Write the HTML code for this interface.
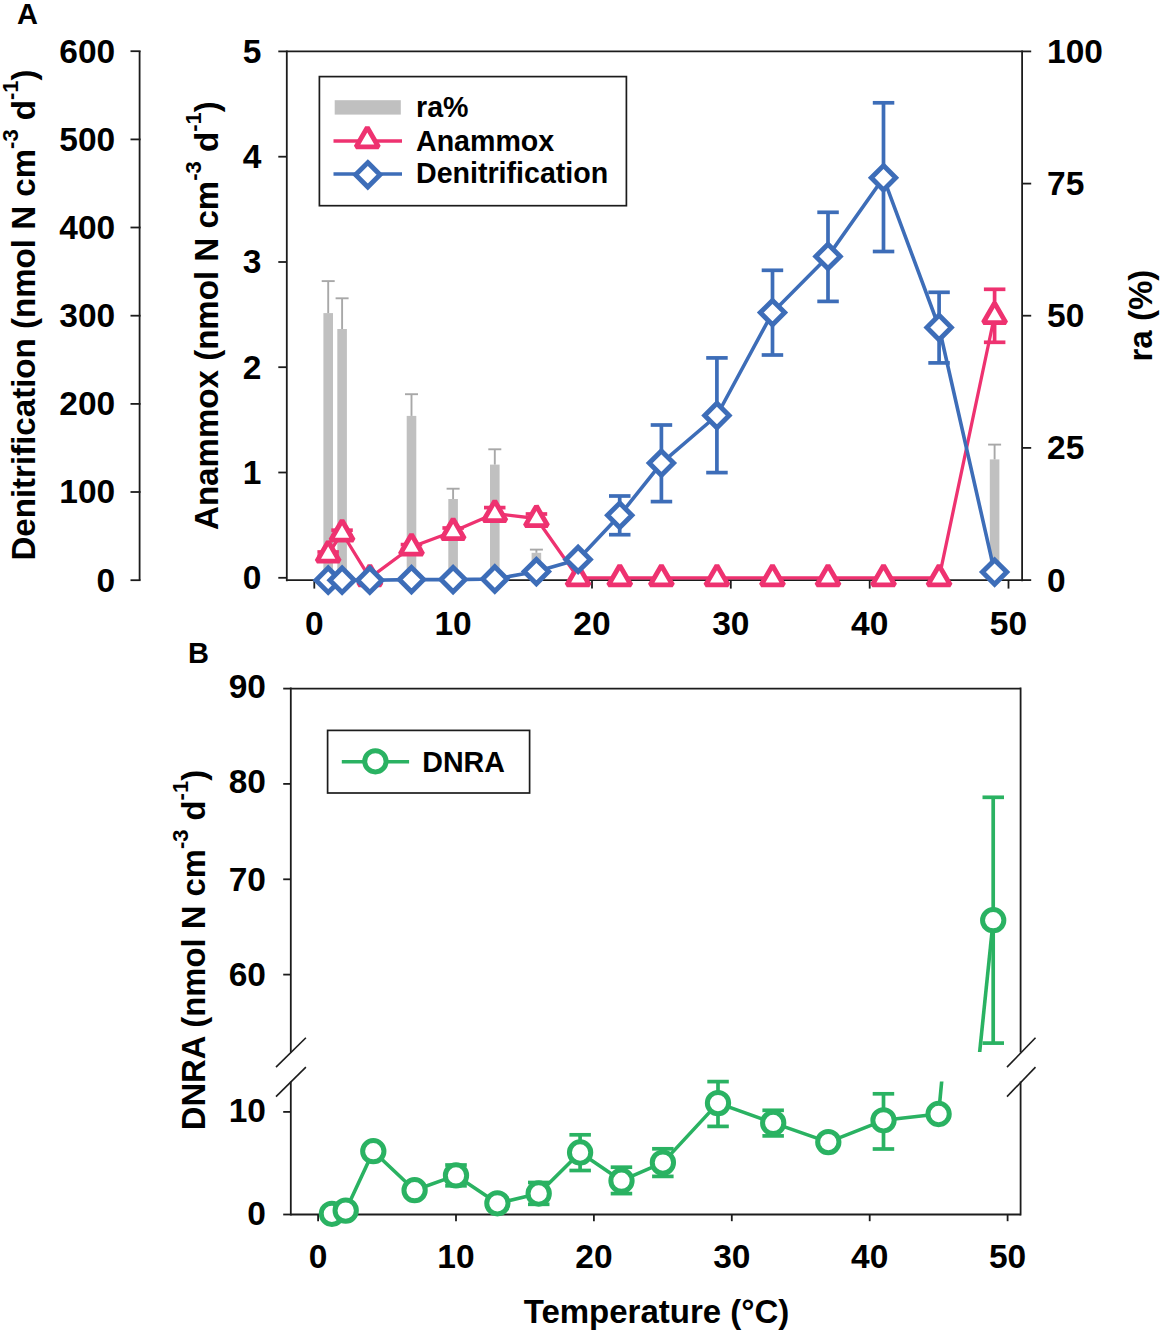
<!DOCTYPE html>
<html><head><meta charset="utf-8"><style>
html,body{margin:0;padding:0;background:#fff;}
svg{display:block;}
text{font-family:"Liberation Sans",sans-serif;font-weight:bold;fill:#000;}
</style></head><body>
<svg width="1160" height="1333" viewBox="0 0 1160 1333">
<rect width="1160" height="1333" fill="#fff"/>
<text x="17" y="24.1" font-size="29" font-family="Liberation Sans, sans-serif" font-weight="bold">A</text>
<line x1="139.6" y1="51.2" x2="139.6" y2="580.2" stroke="#1c1c1c" stroke-width="1.8"/>
<line x1="130.5" y1="580.2" x2="140.6" y2="580.2" stroke="#1c1c1c" stroke-width="1.8"/>
<text x="115.2" y="591.6" font-size="33.5" text-anchor="end" font-family="Liberation Sans, sans-serif" font-weight="bold">0</text>
<line x1="130.5" y1="492.0" x2="140.6" y2="492.0" stroke="#1c1c1c" stroke-width="1.8"/>
<text x="115.2" y="503.4" font-size="33.5" text-anchor="end" font-family="Liberation Sans, sans-serif" font-weight="bold">100</text>
<line x1="130.5" y1="403.9" x2="140.6" y2="403.9" stroke="#1c1c1c" stroke-width="1.8"/>
<text x="115.2" y="415.3" font-size="33.5" text-anchor="end" font-family="Liberation Sans, sans-serif" font-weight="bold">200</text>
<line x1="130.5" y1="315.7" x2="140.6" y2="315.7" stroke="#1c1c1c" stroke-width="1.8"/>
<text x="115.2" y="327.1" font-size="33.5" text-anchor="end" font-family="Liberation Sans, sans-serif" font-weight="bold">300</text>
<line x1="130.5" y1="227.5" x2="140.6" y2="227.5" stroke="#1c1c1c" stroke-width="1.8"/>
<text x="115.2" y="238.9" font-size="33.5" text-anchor="end" font-family="Liberation Sans, sans-serif" font-weight="bold">400</text>
<line x1="130.5" y1="139.4" x2="140.6" y2="139.4" stroke="#1c1c1c" stroke-width="1.8"/>
<text x="115.2" y="150.8" font-size="33.5" text-anchor="end" font-family="Liberation Sans, sans-serif" font-weight="bold">500</text>
<line x1="130.5" y1="51.2" x2="140.6" y2="51.2" stroke="#1c1c1c" stroke-width="1.8"/>
<text x="115.2" y="62.6" font-size="33.5" text-anchor="end" font-family="Liberation Sans, sans-serif" font-weight="bold">600</text>
<line x1="286.8" y1="50.4" x2="286.8" y2="581.2" stroke="#1c1c1c" stroke-width="1.8"/>
<line x1="278.3" y1="577.8" x2="286.8" y2="577.8" stroke="#1c1c1c" stroke-width="1.8"/>
<text x="261.5" y="589.2" font-size="33.5" text-anchor="end" font-family="Liberation Sans, sans-serif" font-weight="bold">0</text>
<line x1="278.3" y1="472.5" x2="286.8" y2="472.5" stroke="#1c1c1c" stroke-width="1.8"/>
<text x="261.5" y="483.9" font-size="33.5" text-anchor="end" font-family="Liberation Sans, sans-serif" font-weight="bold">1</text>
<line x1="278.3" y1="367.2" x2="286.8" y2="367.2" stroke="#1c1c1c" stroke-width="1.8"/>
<text x="261.5" y="378.6" font-size="33.5" text-anchor="end" font-family="Liberation Sans, sans-serif" font-weight="bold">2</text>
<line x1="278.3" y1="262.0" x2="286.8" y2="262.0" stroke="#1c1c1c" stroke-width="1.8"/>
<text x="261.5" y="273.4" font-size="33.5" text-anchor="end" font-family="Liberation Sans, sans-serif" font-weight="bold">3</text>
<line x1="278.3" y1="156.7" x2="286.8" y2="156.7" stroke="#1c1c1c" stroke-width="1.8"/>
<text x="261.5" y="168.1" font-size="33.5" text-anchor="end" font-family="Liberation Sans, sans-serif" font-weight="bold">4</text>
<line x1="278.3" y1="51.4" x2="286.8" y2="51.4" stroke="#1c1c1c" stroke-width="1.8"/>
<text x="261.5" y="62.8" font-size="33.5" text-anchor="end" font-family="Liberation Sans, sans-serif" font-weight="bold">5</text>
<line x1="1022.1" y1="50.4" x2="1022.1" y2="581.2" stroke="#1c1c1c" stroke-width="1.8"/>
<line x1="1022.1" y1="580.1" x2="1031.2" y2="580.1" stroke="#1c1c1c" stroke-width="1.8"/>
<text x="1047" y="591.5" font-size="33.5" font-family="Liberation Sans, sans-serif" font-weight="bold">0</text>
<line x1="1022.1" y1="447.9" x2="1031.2" y2="447.9" stroke="#1c1c1c" stroke-width="1.8"/>
<text x="1047" y="459.3" font-size="33.5" font-family="Liberation Sans, sans-serif" font-weight="bold">25</text>
<line x1="1022.1" y1="315.7" x2="1031.2" y2="315.7" stroke="#1c1c1c" stroke-width="1.8"/>
<text x="1047" y="327.1" font-size="33.5" font-family="Liberation Sans, sans-serif" font-weight="bold">50</text>
<line x1="1022.1" y1="183.6" x2="1031.2" y2="183.6" stroke="#1c1c1c" stroke-width="1.8"/>
<text x="1047" y="195.0" font-size="33.5" font-family="Liberation Sans, sans-serif" font-weight="bold">75</text>
<line x1="1022.1" y1="51.4" x2="1031.2" y2="51.4" stroke="#1c1c1c" stroke-width="1.8"/>
<text x="1047" y="62.8" font-size="33.5" font-family="Liberation Sans, sans-serif" font-weight="bold">100</text>
<line x1="286.8" y1="51.4" x2="1022.1" y2="51.4" stroke="#1c1c1c" stroke-width="1.8"/>
<line x1="286.8" y1="580.2" x2="1022.1" y2="580.2" stroke="#1c1c1c" stroke-width="1.8"/>
<line x1="314.3" y1="580.2" x2="314.3" y2="588.6" stroke="#1c1c1c" stroke-width="1.8"/>
<text x="314.3" y="634.6" font-size="33.5" text-anchor="middle" font-family="Liberation Sans, sans-serif" font-weight="bold">0</text>
<line x1="453.1" y1="580.2" x2="453.1" y2="588.6" stroke="#1c1c1c" stroke-width="1.8"/>
<text x="453.1" y="634.6" font-size="33.5" text-anchor="middle" font-family="Liberation Sans, sans-serif" font-weight="bold">10</text>
<line x1="592.0" y1="580.2" x2="592.0" y2="588.6" stroke="#1c1c1c" stroke-width="1.8"/>
<text x="592.0" y="634.6" font-size="33.5" text-anchor="middle" font-family="Liberation Sans, sans-serif" font-weight="bold">20</text>
<line x1="730.8" y1="580.2" x2="730.8" y2="588.6" stroke="#1c1c1c" stroke-width="1.8"/>
<text x="730.8" y="634.6" font-size="33.5" text-anchor="middle" font-family="Liberation Sans, sans-serif" font-weight="bold">30</text>
<line x1="869.7" y1="580.2" x2="869.7" y2="588.6" stroke="#1c1c1c" stroke-width="1.8"/>
<text x="869.7" y="634.6" font-size="33.5" text-anchor="middle" font-family="Liberation Sans, sans-serif" font-weight="bold">40</text>
<line x1="1008.5" y1="580.2" x2="1008.5" y2="588.6" stroke="#1c1c1c" stroke-width="1.8"/>
<text x="1008.5" y="634.6" font-size="33.5" text-anchor="middle" font-family="Liberation Sans, sans-serif" font-weight="bold">50</text>
<text transform="translate(35.2,315.0) rotate(-90)" x="0" y="0" font-size="33.1" text-anchor="middle" font-family="Liberation Sans, sans-serif" font-weight="bold">Denitrification (nmol N cm<tspan font-size="22" dy="-17">-3</tspan><tspan dy="17"> d</tspan><tspan font-size="22" dy="-17">-1</tspan><tspan dy="17">)</tspan></text>
<text transform="translate(218.0,315.6) rotate(-90)" x="0" y="0" font-size="33.1" text-anchor="middle" font-family="Liberation Sans, sans-serif" font-weight="bold">Anammox (nmol N cm<tspan font-size="22" dy="-17">-3</tspan><tspan dy="17"> d</tspan><tspan font-size="22" dy="-17">-1</tspan><tspan dy="17">)</tspan></text>
<text transform="translate(1152.2,315.6) rotate(-90)" x="0" y="0" font-size="33.1" text-anchor="middle" font-family="Liberation Sans, sans-serif" font-weight="bold">ra (%)</text>
<rect x="323.4" y="313.1" width="9.6" height="267.1" fill="#c0c0c0"/>
<line x1="328.2" y1="281.1" x2="328.2" y2="313.1" stroke="#a8a8a8" stroke-width="1.9"/>
<line x1="321.7" y1="281.1" x2="334.7" y2="281.1" stroke="#a8a8a8" stroke-width="1.9"/>
<rect x="337.3" y="329.0" width="9.6" height="251.2" fill="#c0c0c0"/>
<line x1="342.1" y1="298.3" x2="342.1" y2="329.0" stroke="#a8a8a8" stroke-width="1.9"/>
<line x1="335.6" y1="298.3" x2="348.6" y2="298.3" stroke="#a8a8a8" stroke-width="1.9"/>
<rect x="406.7" y="415.9" width="9.6" height="164.3" fill="#c0c0c0"/>
<line x1="411.5" y1="394.2" x2="411.5" y2="415.9" stroke="#a8a8a8" stroke-width="1.9"/>
<line x1="405.0" y1="394.2" x2="418.0" y2="394.2" stroke="#a8a8a8" stroke-width="1.9"/>
<rect x="448.3" y="499.0" width="9.6" height="81.2" fill="#c0c0c0"/>
<line x1="453.1" y1="488.7" x2="453.1" y2="499.0" stroke="#a8a8a8" stroke-width="1.9"/>
<line x1="446.6" y1="488.7" x2="459.6" y2="488.7" stroke="#a8a8a8" stroke-width="1.9"/>
<rect x="490.0" y="464.6" width="9.6" height="115.6" fill="#c0c0c0"/>
<line x1="494.8" y1="449.3" x2="494.8" y2="464.6" stroke="#a8a8a8" stroke-width="1.9"/>
<line x1="488.3" y1="449.3" x2="501.3" y2="449.3" stroke="#a8a8a8" stroke-width="1.9"/>
<rect x="531.6" y="552.8" width="9.6" height="27.4" fill="#c0c0c0"/>
<line x1="536.4" y1="549.6" x2="536.4" y2="552.8" stroke="#a8a8a8" stroke-width="1.9"/>
<line x1="529.9" y1="549.6" x2="542.9" y2="549.6" stroke="#a8a8a8" stroke-width="1.9"/>
<rect x="989.8" y="459.4" width="9.6" height="120.8" fill="#c0c0c0"/>
<line x1="994.6" y1="444.6" x2="994.6" y2="459.4" stroke="#a8a8a8" stroke-width="1.9"/>
<line x1="988.1" y1="444.6" x2="1001.1" y2="444.6" stroke="#a8a8a8" stroke-width="1.9"/>
<polyline points="328.2,554.0 342.1,533.0 369.8,577.8 411.5,547.0 453.1,531.5 494.8,513.5 536.4,518.5 578.1,577.8 619.7,577.8 661.4,577.8 716.9,577.8 772.5,577.8 828.0,577.8 883.5,577.8 939.1,577.8 994.6,315.5" fill="none" stroke="#ee3270" stroke-width="3.3" stroke-linejoin="round"/>
<line x1="328.2" y1="552.0" x2="328.2" y2="556.0" stroke="#ee3270" stroke-width="3.7"/><line x1="317.4" y1="552.0" x2="338.9" y2="552.0" stroke="#ee3270" stroke-width="3.7"/><line x1="317.4" y1="556.0" x2="338.9" y2="556.0" stroke="#ee3270" stroke-width="3.7"/>
<line x1="342.1" y1="530.2" x2="342.1" y2="535.8" stroke="#ee3270" stroke-width="3.7"/><line x1="331.3" y1="530.2" x2="352.8" y2="530.2" stroke="#ee3270" stroke-width="3.7"/><line x1="331.3" y1="535.8" x2="352.8" y2="535.8" stroke="#ee3270" stroke-width="3.7"/>
<line x1="411.5" y1="544.6" x2="411.5" y2="549.4" stroke="#ee3270" stroke-width="3.7"/><line x1="400.7" y1="544.6" x2="422.2" y2="544.6" stroke="#ee3270" stroke-width="3.7"/><line x1="400.7" y1="549.4" x2="422.2" y2="549.4" stroke="#ee3270" stroke-width="3.7"/>
<line x1="453.1" y1="528.0" x2="453.1" y2="535.0" stroke="#ee3270" stroke-width="3.7"/><line x1="442.4" y1="528.0" x2="463.9" y2="528.0" stroke="#ee3270" stroke-width="3.7"/><line x1="442.4" y1="535.0" x2="463.9" y2="535.0" stroke="#ee3270" stroke-width="3.7"/>
<line x1="494.8" y1="507.6" x2="494.8" y2="519.4" stroke="#ee3270" stroke-width="3.7"/><line x1="484.0" y1="507.6" x2="505.5" y2="507.6" stroke="#ee3270" stroke-width="3.7"/><line x1="484.0" y1="519.4" x2="505.5" y2="519.4" stroke="#ee3270" stroke-width="3.7"/>
<line x1="536.4" y1="514.0" x2="536.4" y2="523.0" stroke="#ee3270" stroke-width="3.7"/><line x1="525.7" y1="514.0" x2="547.2" y2="514.0" stroke="#ee3270" stroke-width="3.7"/><line x1="525.7" y1="523.0" x2="547.2" y2="523.0" stroke="#ee3270" stroke-width="3.7"/>
<line x1="994.6" y1="289.3" x2="994.6" y2="342.3" stroke="#ee3270" stroke-width="3.7"/><line x1="983.9" y1="289.3" x2="1005.4" y2="289.3" stroke="#ee3270" stroke-width="3.7"/><line x1="983.9" y1="342.3" x2="1005.4" y2="342.3" stroke="#ee3270" stroke-width="3.7"/>
<path d="M328.18,541.60 L339.44,561.10 L316.93,561.10 Z" fill="white" stroke="#ee3270" stroke-width="4.9" stroke-linejoin="bevel"/>
<path d="M342.07,520.60 L353.33,540.10 L330.81,540.10 Z" fill="white" stroke="#ee3270" stroke-width="4.9" stroke-linejoin="bevel"/>
<path d="M369.84,565.40 L381.09,584.90 L358.58,584.90 Z" fill="white" stroke="#ee3270" stroke-width="4.9" stroke-linejoin="bevel"/>
<path d="M411.49,534.60 L422.75,554.10 L400.23,554.10 Z" fill="white" stroke="#ee3270" stroke-width="4.9" stroke-linejoin="bevel"/>
<path d="M453.14,519.10 L464.40,538.60 L441.88,538.60 Z" fill="white" stroke="#ee3270" stroke-width="4.9" stroke-linejoin="bevel"/>
<path d="M494.79,501.10 L506.05,520.60 L483.53,520.60 Z" fill="white" stroke="#ee3270" stroke-width="4.9" stroke-linejoin="bevel"/>
<path d="M536.44,506.10 L547.70,525.60 L525.19,525.60 Z" fill="white" stroke="#ee3270" stroke-width="4.9" stroke-linejoin="bevel"/>
<path d="M578.10,565.40 L589.35,584.90 L566.84,584.90 Z" fill="white" stroke="#ee3270" stroke-width="4.9" stroke-linejoin="bevel"/>
<path d="M619.75,565.40 L631.01,584.90 L608.49,584.90 Z" fill="white" stroke="#ee3270" stroke-width="4.9" stroke-linejoin="bevel"/>
<path d="M661.40,565.40 L672.66,584.90 L650.14,584.90 Z" fill="white" stroke="#ee3270" stroke-width="4.9" stroke-linejoin="bevel"/>
<path d="M716.94,565.40 L728.19,584.90 L705.68,584.90 Z" fill="white" stroke="#ee3270" stroke-width="4.9" stroke-linejoin="bevel"/>
<path d="M772.47,565.40 L783.73,584.90 L761.21,584.90 Z" fill="white" stroke="#ee3270" stroke-width="4.9" stroke-linejoin="bevel"/>
<path d="M828.01,565.40 L839.27,584.90 L816.75,584.90 Z" fill="white" stroke="#ee3270" stroke-width="4.9" stroke-linejoin="bevel"/>
<path d="M883.54,565.40 L894.80,584.90 L872.29,584.90 Z" fill="white" stroke="#ee3270" stroke-width="4.9" stroke-linejoin="bevel"/>
<path d="M939.08,565.40 L950.34,584.90 L927.82,584.90 Z" fill="white" stroke="#ee3270" stroke-width="4.9" stroke-linejoin="bevel"/>
<path d="M994.62,303.10 L1005.87,322.60 L983.36,322.60 Z" fill="white" stroke="#ee3270" stroke-width="4.9" stroke-linejoin="bevel"/>
<polyline points="328.2,580.2 342.1,580.2 369.8,580.2 411.5,579.6 453.1,579.6 494.8,579.0 536.4,571.6 578.1,559.4 619.7,515.3 661.4,463.1 716.9,415.5 772.5,312.6 828.0,256.4 883.5,177.8 939.1,327.5 994.6,572.1" fill="none" stroke="#3d6db8" stroke-width="3.6" stroke-linejoin="round"/>
<line x1="619.7" y1="496.0" x2="619.7" y2="534.7" stroke="#3d6db8" stroke-width="3.7"/><line x1="609.0" y1="496.0" x2="630.5" y2="496.0" stroke="#3d6db8" stroke-width="3.7"/><line x1="609.0" y1="534.7" x2="630.5" y2="534.7" stroke="#3d6db8" stroke-width="3.7"/>
<line x1="661.4" y1="425.0" x2="661.4" y2="501.6" stroke="#3d6db8" stroke-width="3.7"/><line x1="650.7" y1="425.0" x2="672.2" y2="425.0" stroke="#3d6db8" stroke-width="3.7"/><line x1="650.7" y1="501.6" x2="672.2" y2="501.6" stroke="#3d6db8" stroke-width="3.7"/>
<line x1="716.9" y1="357.9" x2="716.9" y2="472.6" stroke="#3d6db8" stroke-width="3.7"/><line x1="706.2" y1="357.9" x2="727.7" y2="357.9" stroke="#3d6db8" stroke-width="3.7"/><line x1="706.2" y1="472.6" x2="727.7" y2="472.6" stroke="#3d6db8" stroke-width="3.7"/>
<line x1="772.5" y1="270.3" x2="772.5" y2="355.0" stroke="#3d6db8" stroke-width="3.7"/><line x1="761.7" y1="270.3" x2="783.2" y2="270.3" stroke="#3d6db8" stroke-width="3.7"/><line x1="761.7" y1="355.0" x2="783.2" y2="355.0" stroke="#3d6db8" stroke-width="3.7"/>
<line x1="828.0" y1="212.3" x2="828.0" y2="301.4" stroke="#3d6db8" stroke-width="3.7"/><line x1="817.3" y1="212.3" x2="838.8" y2="212.3" stroke="#3d6db8" stroke-width="3.7"/><line x1="817.3" y1="301.4" x2="838.8" y2="301.4" stroke="#3d6db8" stroke-width="3.7"/>
<line x1="883.5" y1="102.8" x2="883.5" y2="251.5" stroke="#3d6db8" stroke-width="3.7"/><line x1="872.8" y1="102.8" x2="894.3" y2="102.8" stroke="#3d6db8" stroke-width="3.7"/><line x1="872.8" y1="251.5" x2="894.3" y2="251.5" stroke="#3d6db8" stroke-width="3.7"/>
<line x1="939.1" y1="292.3" x2="939.1" y2="362.9" stroke="#3d6db8" stroke-width="3.7"/><line x1="928.3" y1="292.3" x2="949.8" y2="292.3" stroke="#3d6db8" stroke-width="3.7"/><line x1="928.3" y1="362.9" x2="949.8" y2="362.9" stroke="#3d6db8" stroke-width="3.7"/>
<path d="M328.2,568.0 L340.4,580.2 L328.2,592.4 L316.0,580.2 Z" fill="white" stroke="#3d6db8" stroke-width="4.9" stroke-linejoin="miter"/>
<path d="M342.1,568.0 L354.3,580.2 L342.1,592.4 L329.9,580.2 Z" fill="white" stroke="#3d6db8" stroke-width="4.9" stroke-linejoin="miter"/>
<path d="M369.8,568.0 L382.0,580.2 L369.8,592.4 L357.6,580.2 Z" fill="white" stroke="#3d6db8" stroke-width="4.9" stroke-linejoin="miter"/>
<path d="M411.5,567.4 L423.7,579.6 L411.5,591.8 L399.3,579.6 Z" fill="white" stroke="#3d6db8" stroke-width="4.9" stroke-linejoin="miter"/>
<path d="M453.1,567.4 L465.3,579.6 L453.1,591.8 L440.9,579.6 Z" fill="white" stroke="#3d6db8" stroke-width="4.9" stroke-linejoin="miter"/>
<path d="M494.8,566.8 L507.0,579.0 L494.8,591.2 L482.6,579.0 Z" fill="white" stroke="#3d6db8" stroke-width="4.9" stroke-linejoin="miter"/>
<path d="M536.4,559.4 L548.6,571.6 L536.4,583.8 L524.2,571.6 Z" fill="white" stroke="#3d6db8" stroke-width="4.9" stroke-linejoin="miter"/>
<path d="M578.1,547.2 L590.3,559.4 L578.1,571.6 L565.9,559.4 Z" fill="white" stroke="#3d6db8" stroke-width="4.9" stroke-linejoin="miter"/>
<path d="M619.7,503.1 L631.9,515.3 L619.7,527.5 L607.5,515.3 Z" fill="white" stroke="#3d6db8" stroke-width="4.9" stroke-linejoin="miter"/>
<path d="M661.4,450.9 L673.6,463.1 L661.4,475.3 L649.2,463.1 Z" fill="white" stroke="#3d6db8" stroke-width="4.9" stroke-linejoin="miter"/>
<path d="M716.9,403.3 L729.1,415.5 L716.9,427.7 L704.7,415.5 Z" fill="white" stroke="#3d6db8" stroke-width="4.9" stroke-linejoin="miter"/>
<path d="M772.5,300.4 L784.7,312.6 L772.5,324.8 L760.3,312.6 Z" fill="white" stroke="#3d6db8" stroke-width="4.9" stroke-linejoin="miter"/>
<path d="M828.0,244.2 L840.2,256.4 L828.0,268.6 L815.8,256.4 Z" fill="white" stroke="#3d6db8" stroke-width="4.9" stroke-linejoin="miter"/>
<path d="M883.5,165.6 L895.7,177.8 L883.5,190.0 L871.3,177.8 Z" fill="white" stroke="#3d6db8" stroke-width="4.9" stroke-linejoin="miter"/>
<path d="M939.1,315.3 L951.3,327.5 L939.1,339.7 L926.9,327.5 Z" fill="white" stroke="#3d6db8" stroke-width="4.9" stroke-linejoin="miter"/>
<path d="M994.6,559.9 L1006.8,572.1 L994.6,584.3 L982.4,572.1 Z" fill="white" stroke="#3d6db8" stroke-width="4.9" stroke-linejoin="miter"/>
<rect x="319.4" y="76.6" width="307" height="129.1" fill="white" stroke="#1c1c1c" stroke-width="1.7"/>
<rect x="334.7" y="100.2" width="66.1" height="14.4" fill="#c0c0c0"/>
<line x1="333.5" y1="141.0" x2="402" y2="141.0" stroke="#ee3270" stroke-width="3.5"/>
<path d="M367.30,127.40 L378.56,146.90 L356.04,146.90 Z" fill="white" stroke="#ee3270" stroke-width="4.9" stroke-linejoin="bevel"/>
<line x1="333.5" y1="173.9" x2="402" y2="173.9" stroke="#3d6db8" stroke-width="3.5"/>
<path d="M367.8,162.6 L380.0,174.8 L367.8,187.0 L355.6,174.8 Z" fill="white" stroke="#3d6db8" stroke-width="4.9" stroke-linejoin="miter"/>
<text x="416" y="116.9" font-size="28.6" font-family="Liberation Sans, sans-serif" font-weight="bold">ra%</text>
<text x="416" y="150.5" font-size="28.6" font-family="Liberation Sans, sans-serif" font-weight="bold">Anammox</text>
<text x="416" y="183.2" font-size="28.6" font-family="Liberation Sans, sans-serif" font-weight="bold">Denitrification</text>
<text x="188" y="663.1" font-size="29" font-family="Liberation Sans, sans-serif" font-weight="bold">B</text>
<line x1="290.8" y1="687.6" x2="290.8" y2="1052.5" stroke="#1c1c1c" stroke-width="1.8"/>
<line x1="290.8" y1="1081.5" x2="290.8" y2="1215.5" stroke="#1c1c1c" stroke-width="1.8"/>
<line x1="1020.6" y1="687.6" x2="1020.6" y2="1052.5" stroke="#1c1c1c" stroke-width="1.8"/>
<line x1="1020.6" y1="1081.5" x2="1020.6" y2="1215.5" stroke="#1c1c1c" stroke-width="1.8"/>
<line x1="290.8" y1="688.6" x2="1020.6" y2="688.6" stroke="#1c1c1c" stroke-width="1.8"/>
<line x1="290.8" y1="1214.5" x2="1020.6" y2="1214.5" stroke="#1c1c1c" stroke-width="1.8"/>
<line x1="276.0" y1="1067.1" x2="305.9" y2="1037.8" stroke="#1c1c1c" stroke-width="1.6"/>
<line x1="276.0" y1="1096.6" x2="305.9" y2="1067.1" stroke="#1c1c1c" stroke-width="1.6"/>
<line x1="1007.0" y1="1067.1" x2="1035.5" y2="1037.8" stroke="#1c1c1c" stroke-width="1.6"/>
<line x1="1007.0" y1="1096.6" x2="1035.5" y2="1067.1" stroke="#1c1c1c" stroke-width="1.6"/>
<line x1="283.2" y1="974.6" x2="290.8" y2="974.6" stroke="#1c1c1c" stroke-width="1.8"/>
<text x="266" y="986.0" font-size="33.5" text-anchor="end" font-family="Liberation Sans, sans-serif" font-weight="bold">60</text>
<line x1="283.2" y1="879.3" x2="290.8" y2="879.3" stroke="#1c1c1c" stroke-width="1.8"/>
<text x="266" y="890.7" font-size="33.5" text-anchor="end" font-family="Liberation Sans, sans-serif" font-weight="bold">70</text>
<line x1="283.2" y1="783.9" x2="290.8" y2="783.9" stroke="#1c1c1c" stroke-width="1.8"/>
<text x="266" y="793.4" font-size="33.5" text-anchor="end" font-family="Liberation Sans, sans-serif" font-weight="bold">80</text>
<line x1="283.2" y1="688.6" x2="290.8" y2="688.6" stroke="#1c1c1c" stroke-width="1.8"/>
<text x="266" y="698.1" font-size="33.5" text-anchor="end" font-family="Liberation Sans, sans-serif" font-weight="bold">90</text>
<line x1="283.2" y1="1214.5" x2="290.8" y2="1214.5" stroke="#1c1c1c" stroke-width="1.8"/>
<text x="266" y="1224.9" font-size="33.5" text-anchor="end" font-family="Liberation Sans, sans-serif" font-weight="bold">0</text>
<line x1="283.2" y1="1111.9" x2="290.8" y2="1111.9" stroke="#1c1c1c" stroke-width="1.8"/>
<text x="266" y="1122.3" font-size="33.5" text-anchor="end" font-family="Liberation Sans, sans-serif" font-weight="bold">10</text>
<line x1="318.1" y1="1214.5" x2="318.1" y2="1221.2" stroke="#1c1c1c" stroke-width="1.8"/>
<text x="318.1" y="1267.6" font-size="33.5" text-anchor="middle" font-family="Liberation Sans, sans-serif" font-weight="bold">0</text>
<line x1="456.0" y1="1214.5" x2="456.0" y2="1221.2" stroke="#1c1c1c" stroke-width="1.8"/>
<text x="456.0" y="1267.6" font-size="33.5" text-anchor="middle" font-family="Liberation Sans, sans-serif" font-weight="bold">10</text>
<line x1="593.9" y1="1214.5" x2="593.9" y2="1221.2" stroke="#1c1c1c" stroke-width="1.8"/>
<text x="593.9" y="1267.6" font-size="33.5" text-anchor="middle" font-family="Liberation Sans, sans-serif" font-weight="bold">20</text>
<line x1="731.8" y1="1214.5" x2="731.8" y2="1221.2" stroke="#1c1c1c" stroke-width="1.8"/>
<text x="731.8" y="1267.6" font-size="33.5" text-anchor="middle" font-family="Liberation Sans, sans-serif" font-weight="bold">30</text>
<line x1="869.7" y1="1214.5" x2="869.7" y2="1221.2" stroke="#1c1c1c" stroke-width="1.8"/>
<text x="869.7" y="1267.6" font-size="33.5" text-anchor="middle" font-family="Liberation Sans, sans-serif" font-weight="bold">40</text>
<line x1="1007.6" y1="1214.5" x2="1007.6" y2="1221.2" stroke="#1c1c1c" stroke-width="1.8"/>
<text x="1007.6" y="1267.6" font-size="33.5" text-anchor="middle" font-family="Liberation Sans, sans-serif" font-weight="bold">50</text>
<text x="656.5" y="1323.2" font-size="33" text-anchor="middle" font-family="Liberation Sans, sans-serif" font-weight="bold">Temperature (°C)</text>
<text transform="translate(205.2,950.1) rotate(-90)" x="0" y="0" font-size="32.8" text-anchor="middle" font-family="Liberation Sans, sans-serif" font-weight="bold">DNRA (nmol N cm<tspan font-size="22" dy="-17">-3</tspan><tspan dy="17"> d</tspan><tspan font-size="22" dy="-17">-1</tspan><tspan dy="17">)</tspan></text>
<defs><clipPath id="cl"><rect x="291" y="1081.5" width="729" height="140"/></clipPath><clipPath id="cu"><rect x="291" y="689" width="729" height="363"/></clipPath></defs>
<g clip-path="url(#cl)"><polyline points="331.9,1213.8 345.7,1210.6 373.3,1151.2 414.6,1190.2 456.0,1175.4 497.4,1203.3 538.7,1193.5 580.1,1152.5 621.5,1180.7 662.9,1162.6 718.0,1103.1 773.2,1122.9 828.3,1142.1 883.5,1120.3 938.6,1114.0 993.2,539.4" fill="none" stroke="#2ab262" stroke-width="3.6" stroke-linejoin="round"/></g>
<g clip-path="url(#cu)"><line x1="938.6" y1="1452.2" x2="993.2" y2="920.2" stroke="#2ab262" stroke-width="3.6"/></g>
<line x1="456.0" y1="1165.0" x2="456.0" y2="1185.8" stroke="#2ab262" stroke-width="3.7"/><line x1="445.2" y1="1165.0" x2="466.8" y2="1165.0" stroke="#2ab262" stroke-width="3.7"/><line x1="445.2" y1="1185.8" x2="466.8" y2="1185.8" stroke="#2ab262" stroke-width="3.7"/>
<line x1="538.7" y1="1182.5" x2="538.7" y2="1204.3" stroke="#2ab262" stroke-width="3.7"/><line x1="528.0" y1="1182.5" x2="549.5" y2="1182.5" stroke="#2ab262" stroke-width="3.7"/><line x1="528.0" y1="1204.3" x2="549.5" y2="1204.3" stroke="#2ab262" stroke-width="3.7"/>
<line x1="580.1" y1="1134.8" x2="580.1" y2="1170.5" stroke="#2ab262" stroke-width="3.7"/><line x1="569.4" y1="1134.8" x2="590.9" y2="1134.8" stroke="#2ab262" stroke-width="3.7"/><line x1="569.4" y1="1170.5" x2="590.9" y2="1170.5" stroke="#2ab262" stroke-width="3.7"/>
<line x1="621.5" y1="1167.2" x2="621.5" y2="1193.6" stroke="#2ab262" stroke-width="3.7"/><line x1="610.7" y1="1167.2" x2="632.2" y2="1167.2" stroke="#2ab262" stroke-width="3.7"/><line x1="610.7" y1="1193.6" x2="632.2" y2="1193.6" stroke="#2ab262" stroke-width="3.7"/>
<line x1="662.9" y1="1148.8" x2="662.9" y2="1176.4" stroke="#2ab262" stroke-width="3.7"/><line x1="652.1" y1="1148.8" x2="673.6" y2="1148.8" stroke="#2ab262" stroke-width="3.7"/><line x1="652.1" y1="1176.4" x2="673.6" y2="1176.4" stroke="#2ab262" stroke-width="3.7"/>
<line x1="718.0" y1="1081.6" x2="718.0" y2="1126.4" stroke="#2ab262" stroke-width="3.7"/><line x1="707.3" y1="1081.6" x2="728.8" y2="1081.6" stroke="#2ab262" stroke-width="3.7"/><line x1="707.3" y1="1126.4" x2="728.8" y2="1126.4" stroke="#2ab262" stroke-width="3.7"/>
<line x1="773.2" y1="1110.3" x2="773.2" y2="1135.9" stroke="#2ab262" stroke-width="3.7"/><line x1="762.4" y1="1110.3" x2="783.9" y2="1110.3" stroke="#2ab262" stroke-width="3.7"/><line x1="762.4" y1="1135.9" x2="783.9" y2="1135.9" stroke="#2ab262" stroke-width="3.7"/>
<line x1="883.5" y1="1093.8" x2="883.5" y2="1149.0" stroke="#2ab262" stroke-width="3.7"/><line x1="872.7" y1="1093.8" x2="894.2" y2="1093.8" stroke="#2ab262" stroke-width="3.7"/><line x1="872.7" y1="1149.0" x2="894.2" y2="1149.0" stroke="#2ab262" stroke-width="3.7"/>
<line x1="993.2" y1="797.3" x2="993.2" y2="1043.1" stroke="#2ab262" stroke-width="3.7"/><line x1="982.5" y1="797.3" x2="1004.0" y2="797.3" stroke="#2ab262" stroke-width="3.7"/><line x1="982.5" y1="1043.1" x2="1004.0" y2="1043.1" stroke="#2ab262" stroke-width="3.7"/>
<circle cx="331.9" cy="1213.8" r="10.65" fill="white" stroke="#2ab262" stroke-width="5.0"/>
<circle cx="345.7" cy="1210.6" r="10.65" fill="white" stroke="#2ab262" stroke-width="5.0"/>
<circle cx="373.3" cy="1151.2" r="10.65" fill="white" stroke="#2ab262" stroke-width="5.0"/>
<circle cx="414.6" cy="1190.2" r="10.65" fill="white" stroke="#2ab262" stroke-width="5.0"/>
<circle cx="456.0" cy="1175.4" r="10.65" fill="white" stroke="#2ab262" stroke-width="5.0"/>
<circle cx="497.4" cy="1203.3" r="10.65" fill="white" stroke="#2ab262" stroke-width="5.0"/>
<circle cx="538.7" cy="1193.5" r="10.65" fill="white" stroke="#2ab262" stroke-width="5.0"/>
<circle cx="580.1" cy="1152.5" r="10.65" fill="white" stroke="#2ab262" stroke-width="5.0"/>
<circle cx="621.5" cy="1180.7" r="10.65" fill="white" stroke="#2ab262" stroke-width="5.0"/>
<circle cx="662.9" cy="1162.6" r="10.65" fill="white" stroke="#2ab262" stroke-width="5.0"/>
<circle cx="718.0" cy="1103.1" r="10.65" fill="white" stroke="#2ab262" stroke-width="5.0"/>
<circle cx="773.2" cy="1122.9" r="10.65" fill="white" stroke="#2ab262" stroke-width="5.0"/>
<circle cx="828.3" cy="1142.1" r="10.65" fill="white" stroke="#2ab262" stroke-width="5.0"/>
<circle cx="883.5" cy="1120.3" r="10.65" fill="white" stroke="#2ab262" stroke-width="5.0"/>
<circle cx="938.6" cy="1114.0" r="10.65" fill="white" stroke="#2ab262" stroke-width="5.0"/>
<circle cx="993.2" cy="920.2" r="10.65" fill="white" stroke="#2ab262" stroke-width="5.0"/>
<rect x="327.6" y="730.4" width="202" height="62.6" fill="white" stroke="#1c1c1c" stroke-width="1.7"/>
<line x1="341.8" y1="761.7" x2="409.1" y2="761.7" stroke="#2ab262" stroke-width="3.5"/>
<circle cx="375.4" cy="761.3" r="10.65" fill="white" stroke="#2ab262" stroke-width="5.0"/>
<text x="422.3" y="771.6" font-size="28.6" font-family="Liberation Sans, sans-serif" font-weight="bold">DNRA</text>
</svg></body></html>
